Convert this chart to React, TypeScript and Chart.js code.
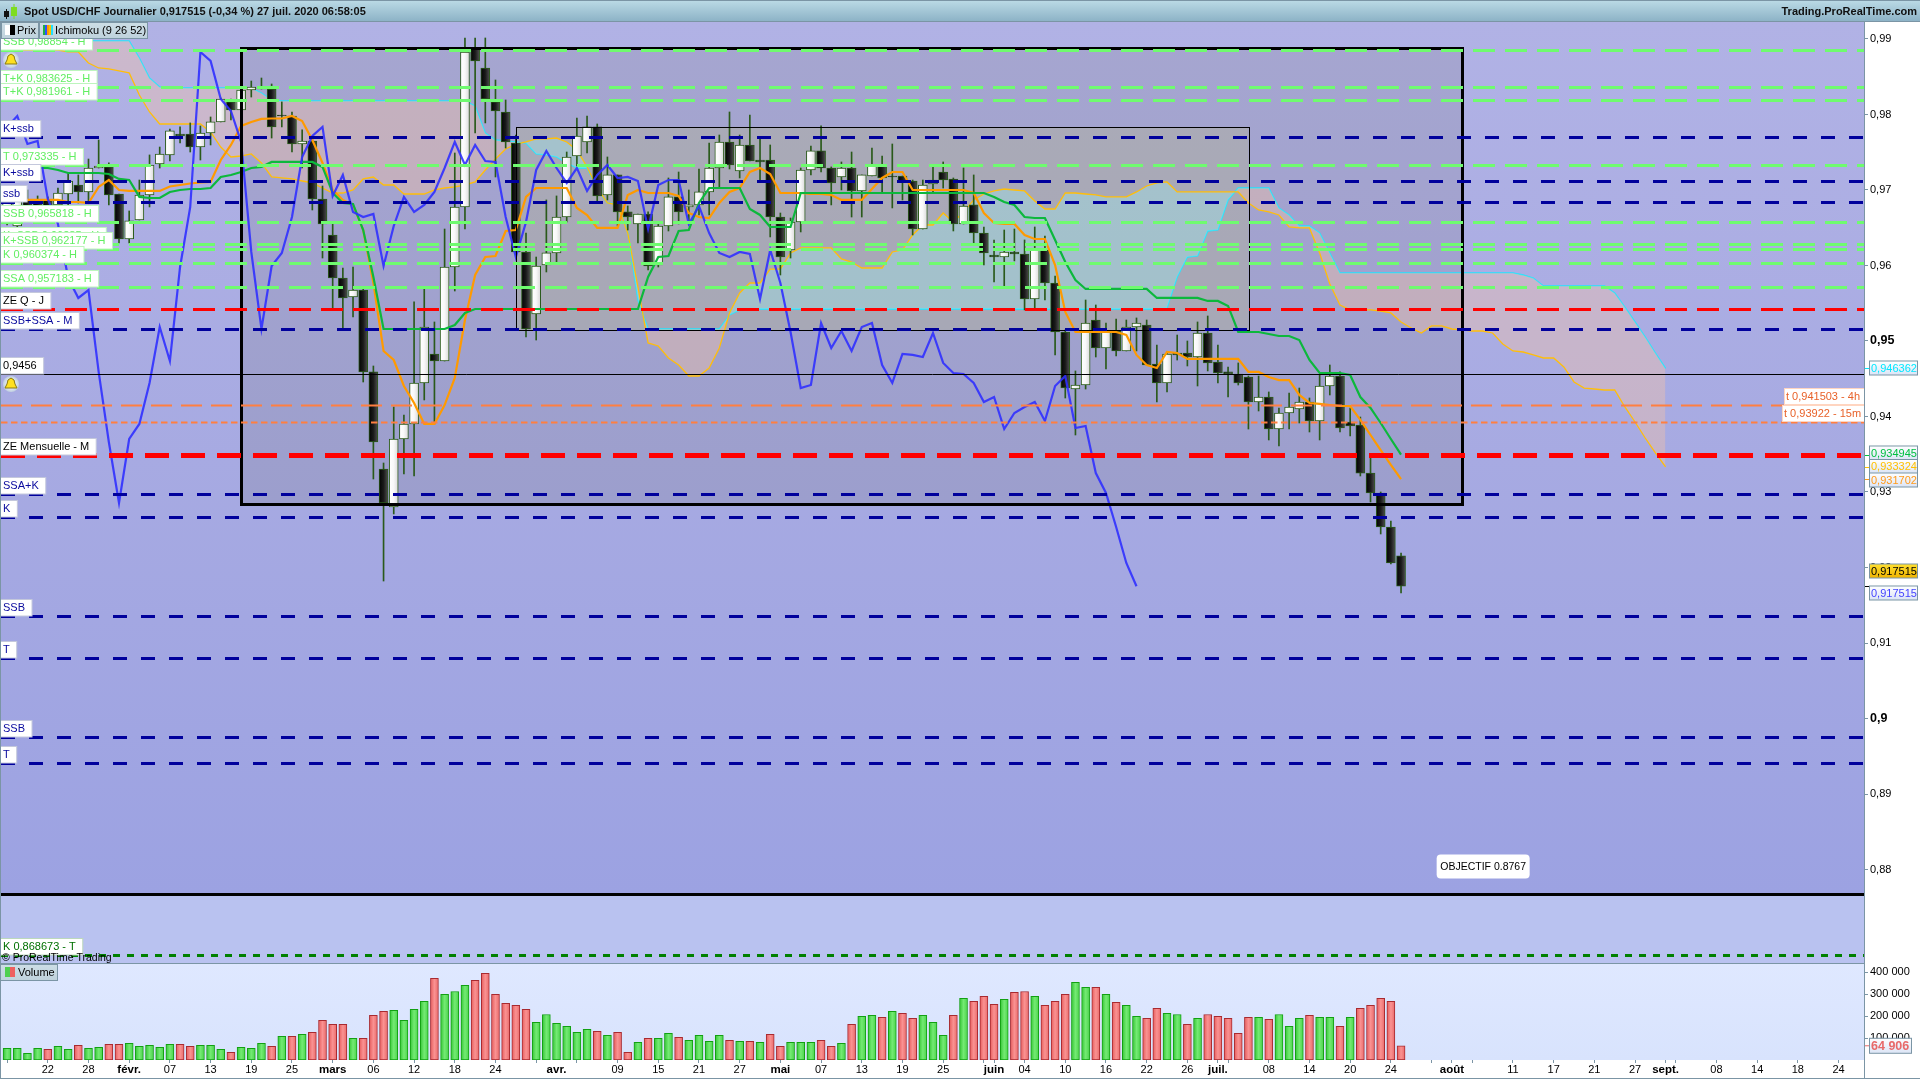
import React, { useEffect, useRef } from "react";
import { Chart, registerables } from "chart.js";

Chart.register(...registerables);

const FONT = '"Liberation Sans", Arial, sans-serif';
const TITLE = "Spot USD/CHF Journalier 0,917515 (-0,34 %) 27 juil. 2020 06:58:05";
const BRAND = "Trading.ProRealTime.com";

const BAR_COUNT = 183;
const categories: string[] = [];
for (let i = 0, d = new Date(Date.UTC(2020, 0, 16)); i < BAR_COUNT; ) {
  if (d.getUTCDay() % 6 !== 0) { categories.push(d.toISOString().slice(0, 10)); i++; }
  d = new Date(d.getTime() + 86400000);
}

const tickIndex = [0,4,8,12,16,20,24,28,32,36,40,44,48,52,54,56,60,64,68,72,76,80,84,88,92,96,97,100,104,108,112,116,119,120,124,128,132,136,140,142,144,148,152,156,160,163,164,168,172,176,180];
const tickText = ["","22","28","févr.","07","13","19","25","mars","06","12","18","24","","avr.","","09","15","21","27","mai","07","13","19","25","","juin","04","10","16","22","26","juil.","","08","14","20","24","","août","","11","17","21","27","sept.","","08","14","18","24"];
const priceTicks = [0.88,0.89,0.9,0.91,0.92,0.93,0.94,0.95,0.96,0.97,0.98,0.99];
const boldPriceTicks = [0.9,0.95];
const volumeTicks = [100000,200000,300000,400000];

const opens = [.96577,.96523,.96868,.96868,.96868,.96802,.96947,.97066,.96974,.97291,
.97305,.96947,.96351,.96603,.96934,.97344,.97464,.97742,.97742,.97569,
.97755,.97901,.98166,.98059,.98324,.98351,.98337,.97993,.9798,.97609,
.97649,.96881,.96404,.95834,.95583,.95675,.9459,.93304,.92801,.93702,
.93901,.94444,.94828,.94735,.9598,.96775,.9888,.98616,.98166,.98033,
.97622,.96179,.95358,.96006,.96166,.96642,.9745,.97636,.97835,.96934,
.97199,.96709,.9655,.96682,.96006,.96523,.96908,.96775,.96802,.96974,
.97291,.97636,.97252,.97596,.97397,.97397,.96642,.96205,.96576,.97265,
.97517,.97291,.97172,.97291,.96987,.97185,.97331,.97185,.97185,.97119,
.96483,.97079,.97238,.97146,.9655,.96802,.9643,.96139,.96112,.96179,
.96152,.95556,.96205,.95768,.95119,.94364,.94417,.95278,.94907,.95132,
.94868,.95185,.95212,.94695,.94444,.94841,.94841,.94788,.95106,.94722,
.9459,.94563,.94523,.94192,.94258,.93834,.94046,.941,.94192,.93941,
.94404,.94536,.93927,.93887,.93251,.92987,.92536,.92153];
const highs = [.96934,.96947,.97,.96921,.96908,.97026,.97225,.97199,.9741,.97662,
.97358,.96947,.96722,.97132,.97464,.97569,.97808,.97835,.97888,.97848,
.97967,.98218,.98205,.98483,.98443,.98483,.98404,.98166,.98033,.97795,
.97688,.97053,.9655,.95967,.9598,.95689,.94669,.93384,.94126,.9402,
.95517,.95689,.95252,.96483,.9749,.99013,.99013,.99013,.98457,.98192,
.97728,.9643,.96112,.96868,.96921,.97503,.97953,.9798,.97874,.97437,
.97199,.96788,.96682,.96709,.96563,.97159,.97238,.97,.97278,.97622,
.97728,.98033,.97728,.97993,.97688,.97596,.96695,.96629,.97291,.97583,
.97848,.97305,.97371,.97503,.97199,.97556,.9745,.97609,.97185,.97132,
.97132,.97305,.97371,.97159,.97291,.97199,.9651,.96338,.9647,.96483,
.96338,.9651,.96391,.95861,.95146,.94603,.95543,.95477,.95238,.95291,
.95278,.95305,.95278,.94947,.94854,.95079,.95,.95252,.95331,.94947,
.94656,.94709,.94536,.94536,.94325,.94113,.94311,.94377,.94245,.9455,
.94682,.9459,.94113,.93993,.93464,.93,.92616,.92192];
const lows = [.96537,.96497,.96629,.96643,.96735,.96762,.96802,.96828,.96828,.97291,
.96802,.96298,.96298,.96603,.96775,.97291,.97384,.97622,.97503,.97397,
.97596,.97901,.97927,.98059,.98231,.98337,.97688,.97835,.97503,.97291,
.96735,.96099,.95437,.95172,.95318,.94457,.93172,.91821,.92709,.93238,
.93212,.94219,.93901,.94735,.95662,.96483,.97755,.97888,.97172,.97556,
.96139,.95053,.95013,.95914,.96046,.96576,.97318,.9749,.96855,.96868,
.96523,.9647,.96298,.9594,.9598,.96457,.9655,.96563,.96669,.96669,
.9704,.97278,.97159,.97384,.97119,.96378,.95874,.96099,.96444,.97199,
.97238,.96802,.97,.96642,.96642,.97185,.96974,.96762,.96868,.96404,
.96483,.9696,.97026,.96457,.9655,.96298,.96006,.95781,.95728,.9606,
.95411,.95437,.95543,.94815,.94245,.93755,.94364,.94788,.94629,.94801,
.94868,.94868,.94682,.94192,.94325,.94748,.94669,.94404,.94603,.94444,
.94258,.94417,.93834,.94073,.93689,.93609,.93834,.93914,.93795,.93689,
.94285,.93795,.93742,.93212,.92868,.92444,.92046,.91662];
const closes = [.96868,.96868,.96669,.96682,.96762,.9696,.97119,.96974,.97291,.97318,
.96934,.96351,.9659,.96934,.97331,.97477,.97782,.97715,.97569,.97755,
.97901,.98205,.98059,.98324,.98364,.98337,.97835,.9798,.97609,.97649,
.96881,.9655,.95834,.9557,.95675,.9459,.93662,.92854,.93702,.93901,
.94444,.95185,.94735,.9598,.96775,.98828,.98709,.98205,.98046,.97636,
.96179,.95159,.95993,.96166,.96642,.97437,.97715,.97835,.96921,.97199,
.96709,.96642,.96682,.95993,.96523,.96908,.96709,.96802,.96974,.97291,
.97636,.97331,.97596,.97384,.97371,.96642,.96112,.96576,.97265,.97517,
.97291,.97093,.97291,.96987,.97199,.97331,.97159,.97172,.97119,.96483,
.97066,.97132,.97132,.9655,.96788,.9643,.96166,.96112,.96179,.96152,
.95556,.96205,.95768,.95119,.94377,.94417,.95238,.94907,.95132,.94868,
.95185,.95238,.94682,.94444,.94828,.94815,.94788,.95106,.94709,.94576,
.94563,.94444,.94192,.94258,.93834,.94046,.94126,.94192,.93941,.94404,
.94536,.93848,.93874,.93251,.92987,.92536,.9206,.917515];

const chikou = [.97835,.9798,.97609,.97649,.96881,.9655,.95834,.9557,.95675,.9459,
.93662,.92854,.93702,.93901,.94444,.95185,.94735,.9598,.96775,.98828,
.98709,.98205,.98046,.97636,.96179,.95159,.95993,.96166,.96642,.97437,
.97715,.97835,.96921,.97199,.96709,.96642,.96682,.95993,.96523,.96908,
.96709,.96802,.96974,.97291,.97636,.97331,.97596,.97384,.97371,.96642,
.96112,.96576,.97265,.97517,.97291,.97093,.97291,.96987,.97199,.97331,
.97159,.97172,.97119,.96483,.97066,.97132,.97132,.9655,.96788,.9643,
.96166,.96112,.96179,.96152,.95556,.96205,.95768,.95119,.94377,.94417,
.95238,.94907,.95132,.94868,.95185,.95238,.94682,.94444,.94828,.94815,
.94788,.95106,.94709,.94576,.94563,.94444,.94192,.94258,.93834,.94046,
.94126,.94192,.93941,.94404,.94536,.93848,.93874,.93251,.92987,.92536,
.9206,.917515];

const tenkan = [.9687,.9687,.9687,.9687,.9687,.96868,.96841,.96841,.96828,.9704,
.97132,.97,.96987,.96987,.96987,.96987,.97046,.97066,.97086,.97099,
.97106,.97397,.97596,.97848,.97901,.97941,.97947,.97947,.9798,.97914,
.97662,.97358,.97,.96868,.96802,.9647,.95768,.94868,.94748,.94404,
.94179,.93901,.93901,.94152,.9451,.95278,.95874,.96112,.96126,.96457,
.9647,.96908,.97026,.97026,.97026,.97026,.96762,.96669,.96497,.96497,
.96497,.96934,.97,.9696,.9696,.9696,.96921,.96695,.96642,.96629,
.96828,.96974,.97026,.97238,.97291,.97212,.9696,.9696,.9696,.96947,
.96947,.96934,.96868,.96868,.96868,.97013,.97159,.97238,.97238,.97,
.97,.97,.97,.97,.97,.9696,.96695,.96563,.9655,.9655,
.96404,.96351,.96351,.96006,.95384,.95119,.95119,.95119,.95119,.95119,
.95079,.94815,.94682,.94642,.94854,.94841,.94762,.94762,.94762,.94762,
.94762,.94762,.9459,.9459,.94523,.94483,.94483,.94285,.94179,.94166,
.94152,.94139,.94139,.93954,.93755,.93556,.93358,.931702];

const kijun = [.9753,.97424,.97331,.97291,.97291,.97265,.97225,.97225,.97225,.97225,
.97212,.97146,.97132,.96908,.96894,.96894,.96974,.97,.97013,.97013,
.97026,.97172,.97199,.97238,.97291,.97305,.97371,.97371,.97371,.97371,
.97371,.97305,.9696,.96828,.96815,.9647,.95848,.95159,.95159,.95159,
.95159,.95159,.95159,.95159,.95212,.95371,.95424,.95424,.95424,.95424,
.95424,.95424,.95424,.95424,.95424,.95424,.95424,.95424,.95424,.95424,
.95424,.95424,.95424,.95848,.96112,.96126,.96457,.9647,.96828,.97026,
.97026,.97026,.97026,.96748,.96669,.9651,.9651,.9651,.9696,.9696,
.9696,.9696,.9696,.9696,.9696,.9696,.9696,.9696,.9696,.9696,
.9696,.9696,.9696,.9696,.9696,.9696,.9696,.96908,.96841,.96802,
.96642,.96629,.96629,.96338,.96046,.95808,.95689,.95689,.95689,.95689,
.95689,.95689,.95689,.9557,.9557,.9557,.9557,.9557,.9553,.9553,
.95464,.95119,.95119,.95119,.95093,.95066,.95066,.95013,.94748,.94576,
.94576,.94576,.9455,.94258,.94113,.93914,.93702,.934945];

const senkouA = [.98854,.98854,.98854,.98854,.98854,.98854,.98828,.98828,.98682,.98616,
.98603,.98576,.9855,.98258,.98033,.97874,.97874,.97874,.97874,.97874,
.97768,.97569,.97437,.9745,.97477,.97358,.97172,.97159,.97146,.97119,
.97093,.97026,.9696,.9696,.97,.97146,.97172,.97066,.97066,.96947,
.96947,.96947,.97,.97026,.9704,.97066,.97106,.97265,.9741,.97543,
.97609,.97636,.97676,.97676,.97688,.97636,.9753,.97305,.97026,.96828,
.96802,.9643,.95715,.94974,.94934,.94775,.94682,.94536,.94536,.94642,
.94907,.95371,.95636,.95768,.95768,.95953,.95953,.96166,.96232,.96232,
.96232,.96232,.96086,.96046,.95967,.95967,.95967,.96179,.96205,.96404,
.96536,.96536,.96695,.96576,.96709,.96868,.96947,.96987,.97013,.97,
.96987,.96855,.96748,.96748,.9696,.9696,.96947,.96934,.96908,.96908,
.96908,.96974,.97053,.97093,.97106,.96974,.96974,.96974,.96974,.96974,
.96974,.96974,.96828,.96735,.96709,.96669,.9651,.96497,.96497,.96166,
.95755,.95477,.95411,.95411,.95411,.95397,.95371,.95252,.95172,.95106,
.95199,.95199,.95159,.95146,.95132,.95132,.95106,.9496,.94868,.94854,
.94815,.94775,.94775,.94656,.94457,.94377,.94364,.94351,.94351,.94126,
.93927,.93715,.93517,.933324];

const senkouB = [.98974,.98974,.98974,.98974,.98974,.98974,.98974,.98974,.98974,.98974,
.98974,.98974,.98974,.98748,.98483,.98364,.98351,.98351,.98351,.98351,
.98351,.98351,.98351,.98351,.98351,.98285,.98192,.98179,.98179,.98179,
.98179,.98179,.98179,.98179,.98179,.98179,.98179,.98179,.98179,.98179,
.98179,.98179,.98179,.98179,.98179,.98179,.98113,.97755,.97662,.97649,
.97636,.97622,.97477,.97464,.97437,.97358,.97291,.97291,.97013,.96828,
.96815,.96444,.95543,.95159,.95159,.95159,.95159,.95159,.95159,.95159,
.95159,.95344,.95411,.95424,.95424,.95424,.95424,.95424,.95424,.95424,
.95424,.95424,.95424,.95424,.95424,.95424,.95424,.95424,.95424,.95424,
.95424,.95424,.95424,.95424,.95424,.95424,.95424,.95424,.95424,.95424,
.95424,.95424,.95424,.95424,.95424,.95424,.95424,.95424,.95424,.95424,
.95424,.95424,.95424,.95424,.95437,.95848,.96112,.96126,.96457,.9647,
.96868,.97026,.97026,.97026,.97026,.96762,.96669,.96523,.96523,.9643,
.96166,.95901,.95901,.95901,.95901,.95901,.95901,.95901,.95901,.95901,
.95901,.95901,.95901,.95901,.95901,.95901,.95901,.95901,.95901,.95874,
.95834,.95729,.95729,.95729,.95729,.95729,.95729,.95729,.95636,.9545,
.95252,.95053,.94841,.946362];

const volumes = [53000,53000,30000,53000,49000,62000,49000,67000,53000,58000,
71000,71000,76000,62000,67000,58000,71000,71000,62000,67000,
67000,49000,35000,58000,53000,76000,62000,108000,108000,117000,
126000,181000,163000,163000,99000,99000,204000,222000,227000,181000,
231000,268000,373000,300000,313000,341000,364000,396000,300000,259000,
250000,231000,172000,208000,167000,154000,126000,140000,131000,113000,
126000,35000,81000,99000,99000,122000,103000,90000,113000,85000,
113000,90000,85000,85000,81000,117000,62000,81000,81000,81000,
90000,62000,76000,163000,199000,204000,195000,222000,213000,190000,
204000,172000,113000,204000,282000,268000,291000,254000,277000,309000,
313000,291000,250000,268000,300000,355000,332000,332000,300000,263000,
250000,199000,190000,236000,213000,208000,163000,190000,208000,199000,
190000,122000,195000,195000,186000,208000,154000,190000,204000,195000,
195000,154000,195000,236000,250000,282000,268000,64906];
const volumeUp = [1,1,1,1,0,1,1,0,1,1,0,0,1,1,1,1,1,0,0,1,1,1,0,1,1,1,0,1,0,1,0,0,0,0,1,0,0,0,1,1,1,1,0,1,1,1,0,0,0,0,0,0,1,1,1,1,1,1,0,1,0,0,1,0,1,1,0,1,1,1,1,0,1,0,1,0,0,1,1,1,0,0,1,0,1,1,0,1,0,0,1,1,1,0,1,0,0,0,1,0,0,1,0,0,0,1,1,0,1,0,1,1,0,0,1,1,0,1,0,0,0,0,0,1,0,1,1,1,0,1,1,0,1,0,0,0,0,0];

const levelsGreen = [0.98854,0.983625,0.981961,0.973335,0.965818,0.96285,0.962177,0.960374,0.957183];
const levelsBlue = [0.97698,0.97115,0.96837,0.95155,0.9297,0.92665,0.91354,0.90807,0.89755,0.89411];
const levelZeQ = 0.9542;
const levelZeM = 0.93486;
const levelT4h = 0.941503;
const levelT15 = 0.93922;
const levelCross = 0.9456;
const levelObjective = 0.8767;
const levelKT = 0.868673;
const bigBox = { from: 23, to: 143, top: 0.98887, bottom: 0.9285 };
const smallBox = { from: 50, to: 122, top: 0.97835, bottom: 0.95146 };

const GREEN_TXT = "#62ee62", NAVY = "#0a0a9e", BLACK = "#000000", DKGREEN = "#007000";
const leftLabels: [string, number, string][] = [
  ["SSB 0,98854 - H", 0.98854, GREEN_TXT],
  ["T+K 0,983625 - H", 0.983625, GREEN_TXT],
  ["T+K 0,981961 - H", 0.981961, GREEN_TXT],
  ["K+ssb", 0.97698, NAVY],
  ["T 0,973335 - H", 0.973335, GREEN_TXT],
  ["K+ssb", 0.97115, NAVY],
  ["ssb", 0.96837, NAVY],
  ["SSB 0,965818 - H", 0.965818, GREEN_TXT],
  ["K+SSB 0,96285 - H", 0.96285, GREEN_TXT],
  ["K+SSB 0,962177 - H", 0.962177, GREEN_TXT],
  ["K 0,960374 - H", 0.960374, GREEN_TXT],
  ["SSA 0,957183 - H", 0.957183, GREEN_TXT],
  ["ZE Q - J", 0.9542, BLACK],
  ["SSB+SSA - M", 0.95155, NAVY],
  ["0,9456", 0.9456, BLACK],
  ["ZE Mensuelle - M", 0.93486, BLACK],
  ["SSA+K", 0.9297, NAVY],
  ["K", 0.92665, NAVY],
  ["SSB", 0.91354, NAVY],
  ["T", 0.90807, NAVY],
  ["SSB", 0.89755, NAVY],
  ["T", 0.89411, NAVY],
  ["K 0,868673 - T", 0.868673, DKGREEN],
];
const valueTags: [string, number, string, string][] = [
  ["0,946362", 0.946362, "#00e8ff", "#00e8ff"],
  ["0,934945", 0.934945, "#00c040", "#00c040"],
  ["0,933324", 0.933324, "#ffc000", "#ffc000"],
  ["0,931702", 0.931702, "#ff9a1a", "#ff9a1a"],
  ["0,917515", 0.917515, "#000000", "#000000"],
  ["0,917515", 0.917515, "#4444ff", "#000000"],
];
const tagCentres = [368, 453, 466.5, 480, 571, 593];

function App() {
  const ref = useRef<HTMLCanvasElement | null>(null);
  useEffect(() => {
    const wick = lows.map((l, i) => [l, highs[i]]);
    const body = opens.map((o, i) => [o, closes[i]]);

    const hGrad = (c: any, i: number, half: number, stops: string[]) => {
      const x = c.scales.x ? c.scales.x.getPixelForValue(i) : NaN;
      if (!Number.isFinite(x)) return stops[1];
      const g = c.ctx.createLinearGradient(x - half, 0, x + half, 0);
      stops.forEach((s, k) => g.addColorStop(k / (stops.length - 1), s));
      return g;
    };

    const bgPlugin = {
      id: "panels",
      beforeDraw(c: any) {
        const ctx = c.ctx, a = c.chartArea, y = c.scales.y, v = c.scales.yVol;
        ctx.save();
        ctx.fillStyle = "#fff";
        ctx.fillRect(0, 0, 1920, 1080);
        const top = y.top, bot = y.bottom;
        const objY = y.getPixelForValue(levelObjective);
        let g = ctx.createLinearGradient(0, top, 0, objY);
        g.addColorStop(0, "#b1b2e5");
        g.addColorStop(0.5, "#a7aae2");
        g.addColorStop(1, "#9ca2e2");
        ctx.fillStyle = g;
        ctx.fillRect(a.left - 1, top, a.right - a.left + 1, objY - top);
        ctx.fillStyle = "#b9c2f0";
        ctx.fillRect(a.left - 1, objY, a.right - a.left + 1, bot - objY);
        g = ctx.createLinearGradient(0, v.top, 0, v.bottom);
        g.addColorStop(0, "#dfe8ff");
        g.addColorStop(1, "#d8e3fd");
        ctx.fillStyle = g;
        ctx.fillRect(a.left - 1, v.top, a.right - a.left + 1, v.bottom - v.top);
        // boxes
        const bx = (b: any, fill: string) => {
          const x0 = c.scales.x.getPixelForValue(b.from), x1 = c.scales.x.getPixelForValue(b.to);
          const y0 = y.getPixelForValue(b.top), y1 = y.getPixelForValue(b.bottom);
          ctx.fillStyle = fill;
          ctx.fillRect(x0, y0, x1 - x0, y1 - y0);
        };
        bx(bigBox, "rgba(90,80,60,0.12)");
        bx(smallBox, "rgba(180,180,140,0.36)");
        ctx.restore();
      },
      afterDatasetsDraw(c: any) {
        const ctx = c.ctx, a = c.chartArea, y = c.scales.y, x = c.scales.x, v = c.scales.yVol;
        const L = 1, R = a.right;
        const hl = (val: number, col: string, lw: number, dash: number[]) => {
          const p = Math.round(y.getPixelForValue(val)) + 0.5;
          ctx.save();
          ctx.strokeStyle = col;
          ctx.lineWidth = lw;
          ctx.setLineDash(dash);
          ctx.beginPath();
          ctx.moveTo(L, p);
          ctx.lineTo(R, p);
          ctx.stroke();
          ctx.restore();
        };
        const stroke = (b: any, lw: number) => {
          const x0 = x.getPixelForValue(b.from), x1 = x.getPixelForValue(b.to);
          const y0 = y.getPixelForValue(b.top), y1 = y.getPixelForValue(b.bottom);
          ctx.save();
          ctx.strokeStyle = "#000";
          ctx.lineWidth = lw;
          ctx.strokeRect(Math.round(x0) + 0.5, Math.round(y0) + 0.5, Math.round(x1 - x0), Math.round(y1 - y0));
          ctx.restore();
        };
        stroke(smallBox, 1);
        stroke(bigBox, 3);
        hl(levelCross, "#000", 1, []);
        levelsGreen.forEach((l) => hl(l, "#6ffb6f", 3, [22, 10]));
        levelsBlue.forEach((l) => hl(l, "#00009c", 3, [14, 14]));
        hl(levelT4h, "#ff7f40", 2, [21, 9]);
        hl(levelT15, "#ff7f40", 2, [6.5, 3.5]);
        hl(levelZeQ, "#ff0000", 3, [22, 10]);
        hl(levelZeM, "#ff0000", 5, [24, 12]);
        hl(levelObjective, "#000", 3, []);
        hl(levelKT, "#008000", 3, [7, 7]);

        ctx.save();
        ctx.textBaseline = "middle";
        ctx.textAlign = "left";
        ctx.font = `11px ${FONT}`;
        leftLabels.forEach(([t, val, col]) => {
          const b = Math.round(y.getPixelForValue(val));
          const w = ctx.measureText(t).width + 9;
          ctx.fillStyle = "#fff";
          ctx.fillRect(1, b - 16.5, w, 16.5);
          ctx.strokeStyle = col === GREEN_TXT ? "#bdf5bd" : col === DKGREEN ? "#bcd8bc" : "#c4c8dc";
          ctx.lineWidth = 1;
          ctx.strokeRect(0.5, b - 16.5, w + 0.5, 16.5);
          ctx.fillStyle = col;
          ctx.fillText(t, 3, b - 8);
        });
        ctx.fillStyle = "#000";
        ctx.font = `10.5px ${FONT}`;
        ctx.fillText("© ProRealTime Trading", 2, 958);

        // price-tags on the right-hand axis
        ctx.font = `11px ${FONT}`;
        valueTags.forEach(([t, val, col, tk], i) => {
          const p = Math.round(y.getPixelForValue(val));
          ctx.strokeStyle = tk;
          ctx.lineWidth = 1;
          ctx.beginPath();
          ctx.moveTo(a.right + 1, p + 0.5);
          ctx.lineTo(a.right + 5, p + 0.5);
          ctx.stroke();
          const cy = tagCentres[i];
          const g = ctx.createLinearGradient(0, cy - 7, 0, cy + 7);
          if (i === 4) { g.addColorStop(0, "#ffe030"); g.addColorStop(1, "#f0b400"); }
          else { g.addColorStop(0, "#ffffff"); g.addColorStop(1, "#dbe4f6"); }
          ctx.fillStyle = g;
          ctx.fillRect(1869.5, cy - 7, 48, 14);
          ctx.strokeStyle = "#7b95a5";
          ctx.strokeRect(1869.5, cy - 7, 48, 14);
          ctx.fillStyle = col;
          ctx.fillText(t, 1871, cy + 0.5);
        });
        // t labels
        ([["t 0,941503 - 4h", levelT4h, 1784], ["t 0,93922 - 15m", levelT15, 1782]] as [string, number, number][]).forEach(([t, val, left]) => {
          const b = Math.round(y.getPixelForValue(val));
          ctx.fillStyle = "#fff";
          ctx.fillRect(left, b - 16, a.right - left, 15);
          ctx.strokeStyle = "#ffd5c0";
          ctx.strokeRect(left + 0.5, b - 16.5, a.right - left, 16);
          ctx.fillStyle = "#e8622a";
          ctx.fillText(t, left + 2, b - 8);
        });
        // OBJECTIF note
        const ox = x.getPixelForValue(140.5), oy = y.getPixelForValue(0.8804);
        ctx.fillStyle = "#fff";
        ctx.beginPath();
        ctx.roundRect(ox, oy - 12, 93, 24, 4);
        ctx.fill();
        ctx.fillStyle = "#000";
        ctx.textAlign = "center";
        ctx.font = `10.5px ${FONT}`;
        ctx.fillText("OBJECTIF 0.8767", ox + 46.5, oy + 0.5);
        ctx.textAlign = "left";

        // current volume tag
        const vp = v.getPixelForValue(volumes[volumes.length - 1]);
        ctx.strokeStyle = "#e86a6a";
        ctx.beginPath();
        ctx.moveTo(a.right + 1, vp);
        ctx.lineTo(a.right + 5, vp);
        ctx.stroke();
        const vg = ctx.createLinearGradient(0, vp - 8, 0, vp + 8);
        vg.addColorStop(0, "#ffffff");
        vg.addColorStop(1, "#dbe4f6");
        ctx.fillStyle = vg;
        ctx.fillRect(1869.5, vp - 7.5, 42, 15);
        ctx.strokeStyle = "#7b95a5";
        ctx.strokeRect(1869.5, vp - 7.5, 42, 15);
        ctx.fillStyle = "#e86a6a";
        ctx.font = `bold 12.5px ${FONT}`;
        ctx.fillText("64 906", 1871, vp + 0.5);

        // title bar
        const tg = ctx.createLinearGradient(0, 0, 0, 21);
        tg.addColorStop(0, "#bcdbe6");
        tg.addColorStop(1, "#8db3c7");
        ctx.fillStyle = tg;
        ctx.fillRect(0, 0, 1920, 21);
        ctx.fillStyle = "#7b95a5";
        ctx.fillRect(0, 21, 1920, 1);
        ctx.fillRect(0, 0, 1920, 1);
        ctx.fillStyle = "#111";
        ctx.fillRect(4, 11, 5, 6);
        ctx.fillRect(6, 9, 1, 10);
        ctx.fillStyle = "#7fdc20";
        ctx.fillRect(11, 7, 6, 9);
        ctx.fillRect(13.5, 4, 1, 15);
        ctx.fillStyle = "#101010";
        ctx.font = `bold 11px ${FONT}`;
        ctx.fillText(TITLE, 24, 12);
        ctx.textAlign = "right";
        ctx.fillText(BRAND, 1917, 12);
        ctx.textAlign = "left";

        // legends
        const legendBox = (lx: number, ly: number, w: number, h: number) => {
          const lg = ctx.createLinearGradient(0, ly, 0, ly + h);
          lg.addColorStop(0, "#cddee6");
          lg.addColorStop(1, "#bfd2dc");
          ctx.fillStyle = lg;
          ctx.fillRect(lx, ly, w, h);
          ctx.strokeStyle = "#7b95a5";
          ctx.strokeRect(lx + 0.5, ly + 0.5, w, h);
        };
        ctx.font = `11px ${FONT}`;
        legendBox(1, 22, 37, 16);
        ctx.fillStyle = "#fff"; ctx.fillRect(5, 25, 5, 10);
        ctx.fillStyle = "#000"; ctx.fillRect(10, 25, 5, 10);
        ctx.fillText("Prix", 17, 30.5);
        legendBox(39, 22, 108, 16);
        ["#20b040", "#3050ff", "#ff9a00", "#ffc000", "#20e0ff"].forEach((col, k) => {
          ctx.fillStyle = col; ctx.fillRect(43 + k * 2, 25, 2, 10);
        });
        ctx.fillStyle = "#000";
        ctx.fillText("Ichimoku (9 26 52)", 55, 30.5);
        legendBox(0, 964, 57, 16);
        ctx.fillStyle = "#4fd04f"; ctx.fillRect(5, 967, 5, 10);
        ctx.fillStyle = "#ee6060"; ctx.fillRect(10, 967, 5, 10);
        ctx.fillStyle = "#000";
        ctx.fillText("Volume", 18, 972.5);

        // alarm bells
        [[11, 60], [11, 384]].forEach(([bx, by]) => {
          const rg = ctx.createRadialGradient(bx, by, 1, bx, by, 8);
          rg.addColorStop(0, "#ffffff");
          rg.addColorStop(1, "#c0cfe0");
          ctx.fillStyle = rg;
          ctx.beginPath();
          ctx.arc(bx, by, 8, 0, Math.PI * 2);
          ctx.fill();
          ctx.fillStyle = "#ffe020";
          ctx.strokeStyle = "#8a7a10";
          ctx.beginPath();
          ctx.moveTo(bx, by - 6);
          ctx.quadraticCurveTo(bx + 4, by - 5, bx + 4, by);
          ctx.lineTo(bx + 6, by + 4);
          ctx.lineTo(bx - 6, by + 4);
          ctx.lineTo(bx - 4, by);
          ctx.quadraticCurveTo(bx - 4, by - 5, bx, by - 6);
          ctx.fill();
          ctx.stroke();
        });

        // frame
        ctx.fillStyle = "#7b95a5";
        ctx.fillRect(0, 21, 1, 1057);
        ctx.fillRect(0, y.bottom, a.right, 1);
        ctx.fillRect(0, 1078, 1920, 1);
        ctx.fillRect(a.right, 21, 1, 1057);
        ctx.restore();
      },
    };

    const lineBase = { type: "line" as const, pointRadius: 0, pointHoverRadius: 0, tension: 0, yAxisID: "y", xAxisID: "x" };
    const chart = new Chart(ref.current as HTMLCanvasElement, {
      type: "bar",
      data: {
        labels: categories,
        datasets: [
          { ...lineBase, label: "SSB", data: senkouB, borderColor: "#22e4ff", borderWidth: 1.3, order: 60, fill: false },
          { ...lineBase, label: "SSA", data: senkouA, borderColor: "#ffbe0a", borderWidth: 1.3, order: 59,
            fill: { target: 0, above: "rgba(154,237,240,0.36)", below: "rgba(251,197,160,0.36)" } },
          { type: "bar", label: "wick", data: wick, yAxisID: "y", grouped: false, barThickness: 1, backgroundColor: "#2a5a1a", borderWidth: 0, order: 40 },
          { type: "bar", label: "body", data: body, yAxisID: "y", grouped: false, barThickness: 9, borderColor: "#2a5a1a", borderWidth: 1, borderSkipped: false, order: 39,
            backgroundColor: (c: any) => {
              if (c.dataIndex === undefined) return "#fff";
              const up = closes[c.dataIndex] >= opens[c.dataIndex];
              return hGrad(c.chart, c.dataIndex, 4, up ? ["#ffffff", "#f8f8f8", "#dcdcdc"] : ["#050505", "#1a1a1a", "#4a4a4a"]);
            } },
          { ...lineBase, label: "Tenkan", data: tenkan, borderColor: "#ff9a00", borderWidth: 2.2, order: 20, fill: false },
          { ...lineBase, label: "Kijun", data: kijun, borderColor: "#0cb83c", borderWidth: 2.2, order: 19, fill: false },
          { ...lineBase, label: "Chikou", data: chikou, borderColor: "rgba(48,48,255,0.9)", borderWidth: 2.2, order: 18, fill: false },
          { type: "bar", label: "Volume", data: volumes, yAxisID: "yVol", grouped: false, barThickness: 8, borderWidth: 1, borderSkipped: false, order: 70,
            borderColor: (c: any) => (volumeUp[c.dataIndex] ? "#12a012" : "#a82a30"),
            backgroundColor: (c: any) => {
              if (c.dataIndex === undefined) return "#4fd04f";
              return hGrad(c.chart, c.dataIndex, 4, volumeUp[c.dataIndex] ? ["#34c634", "#74ea74", "#4ad44a"] : ["#e65c5c", "#fa9292", "#ea6a6a"]);
            } },
        ] as any,
      },
      options: {
        responsive: false,
        animation: false,
        devicePixelRatio: 1,
        layout: { padding: { left: 2, top: 21, right: 0, bottom: 0 } },
        plugins: { legend: { display: false }, tooltip: { enabled: false }, title: { display: false } },
        events: [],
        scales: {
          x: {
            type: "category",
            offset: true,
            grid: { offset: false, drawOnChartArea: false, tickLength: 3, color: (c: any) => (c.tick && c.tick.value === 54 ? "rgba(0,0,0,0)" : "#7b95a5") },
            border: { display: false },
            ticks: {
              autoSkip: false, maxRotation: 0, minRotation: 0, padding: 0, color: "#000",
              callback: (v: any) => tickText[tickIndex.indexOf(Number(v))] ?? "",
              font: (c: any) => {
                const t = c.tick ? tickText[tickIndex.indexOf(c.tick.value)] : "";
                return t && /[a-z]/.test(t) ? { family: FONT, size: 11.5, weight: "bold" } : { family: FONT, size: 11 };
              },
            },
            afterBuildTicks: (a: any) => { a.ticks = tickIndex.map((value) => ({ value })); },
            afterFit: (a: any) => { a.height = 20; },
          },
          y: {
            position: "right",
            stack: "panels",
            stackWeight: 942,
            min: 0.86762,
            max: 0.99238,
            grid: { drawOnChartArea: false, tickLength: 4, color: "#7b95a5" },
            border: { display: false },
            ticks: {
              autoSkip: false,
              padding: 2, color: "#000",
              callback: (v: any) => String(Number(Number(v).toFixed(2))).replace(".", ","),
              font: (c: any) => {
                const bold = c.tick && boldPriceTicks.some((b) => Math.abs(b - c.tick.value) < 1e-6);
                return bold ? { family: FONT, size: 12.5, weight: "bold" } : { family: FONT, size: 11 };
              },
            },
            afterBuildTicks: (a: any) => { a.ticks = priceTicks.map((value) => ({ value })); },
            afterFit: (a: any) => { a.width = 56; },
          },
          yVol: {
            position: "right",
            stack: "panels",
            stackWeight: 97,
            min: 0,
            max: 443000,
            grid: { drawOnChartArea: false, tickLength: 4, color: "#7b95a5" },
            border: { display: false },
            ticks: {
              autoSkip: false,
              padding: 2, color: "#000", font: { family: FONT, size: 11 },
              callback: (v: any) => `${Math.round(Number(v) / 1000)} 000`,
            },
            afterBuildTicks: (a: any) => { a.ticks = volumeTicks.map((value) => ({ value })); },
            afterFit: (a: any) => { a.width = 56; },
          },
        },
      } as any,
      plugins: [bgPlugin as any],
    });
    return () => chart.destroy();
  }, []);
  return (
    <div style={{ position: "fixed", left: 0, top: 0, width: 1920, height: 1080, background: "#fff" }}>
      <canvas ref={ref} width={1920} height={1080} style={{ display: "block", width: 1920, height: 1080 }} />
    </div>
  );
}

export default App;
